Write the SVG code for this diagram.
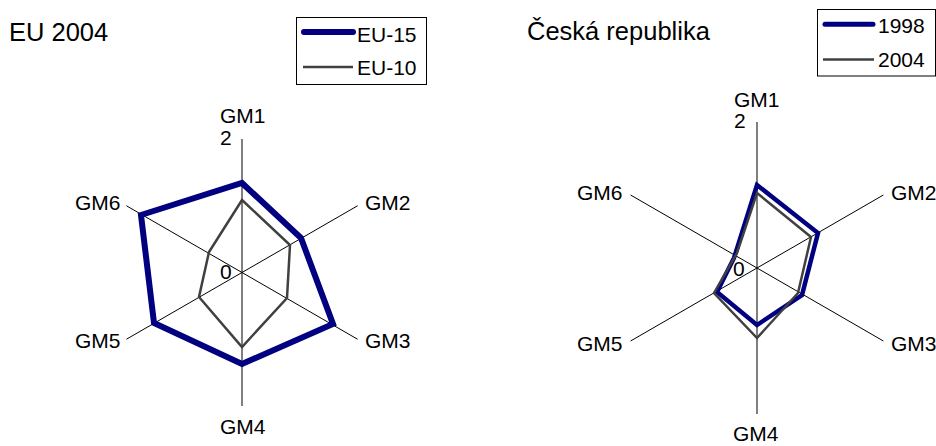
<svg xmlns="http://www.w3.org/2000/svg" width="936" height="446" viewBox="0 0 936 446">
<style>
text{font-family:"Liberation Sans",Arial,sans-serif;fill:#000;}
.t{font-size:25.5px;}
.l{font-size:21px;}
.ax{stroke:#000;stroke-width:1;fill:none;}
.s1{stroke:#000080;fill:none;stroke-linejoin:miter;}
.s2{stroke:#404040;fill:none;stroke-width:2.5;stroke-linejoin:miter;}
.box{fill:#fff;stroke:#000;stroke-width:1;}
</style>
<rect width="936" height="446" fill="#fff"/>
<g id="chart-eu">
<text class="t" x="9" y="40.7">EU 2004</text>
<g id="eu-axes">
<path class="ax" d="M242,139V406M126.4,205.75L357.6,339.25M126.4,339.25L357.6,205.75"/>
</g>
<g id="eu-series">
<polygon class="s1" stroke-width="6" points="242,183 301,238 333,324 242,364 154,323 141,215"/>
<polygon class="s2" points="242,200 290,245 287,298 242,347 199,297 209,252"/>
</g>
<g id="eu-labels">
<text class="l" x="220" y="123">GM1</text>
<text class="l" x="220" y="145">2</text>
<text class="l" x="365" y="210">GM2</text>
<text class="l" x="365" y="348">GM3</text>
<text class="l" x="220" y="434">GM4</text>
<text class="l" x="75" y="348">GM5</text>
<text class="l" x="75" y="210">GM6</text>
<text class="l" x="220" y="279">0</text>
</g>
<g id="eu-legend">
<rect class="box" x="296.5" y="17.5" width="130" height="67"/>
<line x1="304" y1="32" x2="353" y2="32" stroke="#000080" stroke-width="6" stroke-linecap="round"/>
<text class="l" x="357" y="42">EU-15</text>
<line x1="303" y1="67" x2="353" y2="67" stroke="#404040" stroke-width="2.5"/>
<text class="l" x="357" y="75">EU-10</text>
</g>
</g>
<g id="chart-cz">
<text class="t" x="527" y="40">Česká republika</text>
<g id="cz-axes">
<path class="ax" d="M757,122V414M630.6,195L883.4,341M630.6,341L883.4,195"/>
</g>
<g id="cz-series">
<polygon class="s1" stroke-width="4.5" points="757,185 818,233 802,295 757,325 717,292 734,258"/>
<polygon class="s2" points="757,193 811,237 798,293 757,338 714,293 737,253"/>
</g>
<g id="cz-labels">
<text class="l" x="734" y="107">GM1</text>
<text class="l" x="734" y="128">2</text>
<text class="l" x="891" y="200">GM2</text>
<text class="l" x="891" y="351">GM3</text>
<text class="l" x="733" y="441">GM4</text>
<text class="l" x="577" y="351">GM5</text>
<text class="l" x="577" y="200">GM6</text>
<text class="l" x="733" y="276">0</text>
</g>
<g id="cz-legend">
<rect class="box" x="817.5" y="9.5" width="118" height="66.5"/>
<line x1="825" y1="24.3" x2="873" y2="24.3" stroke="#000080" stroke-width="5" stroke-linecap="round"/>
<text class="l" x="878" y="33.3">1998</text>
<line x1="823" y1="59.5" x2="874" y2="59.5" stroke="#404040" stroke-width="2.5"/>
<text class="l" x="878" y="66.5">2004</text>
</g>
</g>
</svg>
